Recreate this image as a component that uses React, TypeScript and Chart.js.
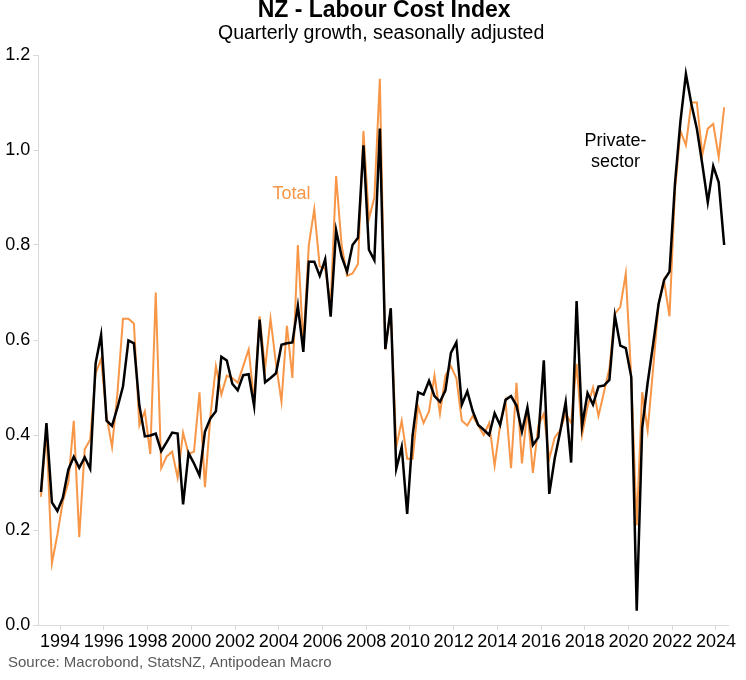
import React, { useEffect, useRef } from 'react';
import { Chart, registerables } from 'chart.js';

Chart.register(...registerables);

// ---- Data (quarterly % growth, 1993 Q1 .. 2024 Q2) ----
const START_YEAR = 1993;

const totalGrowth = [
  0.27, 0.41, 0.13, 0.19, 0.26, 0.30, 0.43, 0.185, 0.37, 0.39,
  0.53, 0.56, 0.44, 0.375, 0.49, 0.645, 0.645, 0.635, 0.42, 0.45,
  0.36, 0.70, 0.33, 0.355, 0.365, 0.31, 0.405, 0.36, 0.365, 0.49,
  0.29, 0.44, 0.545, 0.485, 0.525, 0.52, 0.51, 0.545, 0.58, 0.47,
  0.65, 0.54, 0.645, 0.55, 0.47, 0.63, 0.52, 0.80, 0.59, 0.80,
  0.875, 0.755, 0.75, 0.675, 0.945, 0.80, 0.735, 0.74, 0.76, 1.04,
  0.855, 0.90, 1.15, 0.58, 0.665, 0.375, 0.43, 0.35, 0.35, 0.46,
  0.425, 0.45, 0.525, 0.445, 0.525, 0.545, 0.52, 0.43, 0.42, 0.44,
  0.42, 0.40, 0.425, 0.335, 0.42, 0.47, 0.33, 0.51, 0.34, 0.455,
  0.32, 0.42, 0.445, 0.35, 0.395, 0.41, 0.445, 0.425, 0.55, 0.40,
  0.46, 0.50, 0.44, 0.49, 0.54, 0.655, 0.67, 0.74, 0.52, 0.21,
  0.49, 0.41, 0.54, 0.675, 0.725, 0.65, 0.915, 1.04, 1.01, 1.10,
  1.10, 0.99, 1.045, 1.055, 0.985, 1.09,
];

const privateGrowth = [
  0.28, 0.425, 0.258, 0.24, 0.268, 0.327, 0.354, 0.331, 0.353, 0.329,
  0.551, 0.611, 0.43, 0.419, 0.458, 0.502, 0.599, 0.593, 0.462, 0.397,
  0.399, 0.403, 0.366, 0.385, 0.405, 0.403, 0.254, 0.362, 0.34, 0.315,
  0.407, 0.435, 0.45, 0.565, 0.557, 0.508, 0.494, 0.526, 0.528, 0.461,
  0.643, 0.511, 0.52, 0.53, 0.59, 0.593, 0.595, 0.672, 0.575, 0.765,
  0.765, 0.735, 0.77, 0.649, 0.831, 0.776, 0.744, 0.80, 0.815, 1.01,
  0.79, 0.768, 1.045, 0.581, 0.667, 0.329, 0.375, 0.234, 0.40, 0.49,
  0.485, 0.514, 0.482, 0.47, 0.494, 0.573, 0.595, 0.464, 0.492, 0.45,
  0.421, 0.411, 0.40, 0.446, 0.421, 0.474, 0.482, 0.462, 0.407, 0.458,
  0.379, 0.395, 0.557, 0.276, 0.351, 0.407, 0.469, 0.342, 0.682, 0.419,
  0.488, 0.464, 0.502, 0.504, 0.516, 0.651, 0.588, 0.583, 0.522, 0.03,
  0.415, 0.51, 0.591, 0.676, 0.726, 0.744, 0.93, 1.061, 1.16, 1.097,
  1.045, 0.97, 0.89, 0.966, 0.932, 0.80,
];

const yearTicks = [1994, 1996, 1998, 2000, 2002, 2004, 2006, 2008, 2010, 2012, 2014, 2016, 2018, 2020, 2022, 2024];
const valueTicks = [0, 0.2, 0.4, 0.6, 0.8, 1.0, 1.2];

const TITLE = 'NZ - Labour Cost Index';
const SUBTITLE = 'Quarterly growth, seasonally adjusted';
const SOURCE = 'Source: Macrobond, StatsNZ, Antipodean Macro';
const TOTAL_LABEL = 'Total';
const PRIVATE_LABEL = ['Private-', 'sector'];

const ORANGE = '#F79646';
const FONT = '"Liberation Sans", Arial, sans-serif';

const quarterX = (i: number) => START_YEAR + 0.125 + i * 0.25;

const textPlugin = {
  id: 'textPlugin',
  afterDraw(chart: any) {
    const { ctx, chartArea, scales } = chart;
    const x = scales.x;
    const y = scales.y;
    ctx.save();
    const cx = (chartArea.left + chartArea.right) / 2;
    ctx.textAlign = 'center';
    ctx.textBaseline = 'middle';
    ctx.fillStyle = '#000';
    ctx.font = `bold 23px ${FONT}`;
    ctx.fillText(TITLE, cx + 1, 11);
    ctx.font = `19.5px ${FONT}`;
    ctx.fillText(SUBTITLE, cx - 2, 34);

    ctx.font = `18px ${FONT}`;
    ctx.fillStyle = ORANGE;
    ctx.fillText(TOTAL_LABEL, x.getPixelForValue(2004.58), y.getPixelForValue(0.907));
    ctx.fillStyle = '#000';
    ctx.fillText(PRIVATE_LABEL[0], x.getPixelForValue(2019.4), y.getPixelForValue(1.019));
    ctx.fillText(PRIVATE_LABEL[1], x.getPixelForValue(2019.4), y.getPixelForValue(0.975));

    ctx.textAlign = 'left';
    ctx.fillStyle = '#595959';
    ctx.font = `15px ${FONT}`;
    ctx.fillText(SOURCE, 8, 663);
    ctx.restore();
  },
};

export default function App() {
  const canvasRef = useRef<HTMLCanvasElement | null>(null);

  useEffect(() => {
    document.body.style.margin = '0';
    const canvas = canvasRef.current;
    if (!canvas) return;
    Chart.defaults.font.family = FONT;
    const chart = new Chart(canvas, {
      type: 'line',
      data: {
        datasets: [
          {
            label: 'Private sector',
            data: privateGrowth.map((v, i) => ({ x: quarterX(i), y: v })),
            borderColor: '#000000',
            borderWidth: 2.5,
            pointRadius: 0,
            tension: 0,
            order: 0,
          },
          {
            label: 'Total',
            data: totalGrowth.map((v, i) => ({ x: quarterX(i), y: v })),
            borderColor: ORANGE,
            borderWidth: 2,
            pointRadius: 0,
            tension: 0,
            order: 1,
          },
        ],
      },
      options: {
        responsive: false,
        animation: false,
        layout: { padding: { left: 0, right: 18, top: 55, bottom: 0 } },
        plugins: {
          legend: { display: false },
          tooltip: { enabled: false },
          title: { display: false },
        },
        scales: {
          x: {
            type: 'linear',
            min: 1993,
            max: 2024.55,
            afterBuildTicks: (s: any) => {
              s.ticks = yearTicks.map((v) => ({ value: v }));
            },
            afterFit: (s: any) => {
              s.height = 55;
            },
            ticks: {
              callback: (v: any) => String(v),
              font: { size: 18, family: FONT },
              color: '#000',
              padding: 1,
              maxRotation: 0,
              autoSkip: false,
            },
            grid: { drawOnChartArea: false, drawTicks: true, tickLength: 5, color: '#d9d9d9' },
            border: { display: true, color: '#d9d9d9' },
          },
          y: {
            type: 'linear',
            min: 0,
            max: 1.2,
            afterBuildTicks: (s: any) => {
              s.ticks = valueTicks.map((v) => ({ value: v }));
            },
            afterFit: (s: any) => {
              s.width = 38.25;
            },
            ticks: {
              callback: (v: any) => Number(v).toFixed(1),
              font: { size: 18, family: FONT },
              color: '#000',
              padding: 3,
            },
            grid: { drawOnChartArea: false, drawTicks: true, tickLength: 5, color: '#d9d9d9' },
            border: { display: true, color: '#d9d9d9' },
          },
        },
      },
      plugins: [textPlugin],
    });
    return () => chart.destroy();
  }, []);

  return (
    <div style={{ width: 746, height: 680, background: '#fff' }}>
      <canvas ref={canvasRef} width={746} height={680} style={{ display: 'block', width: 746, height: 680 }} />
    </div>
  );
}
